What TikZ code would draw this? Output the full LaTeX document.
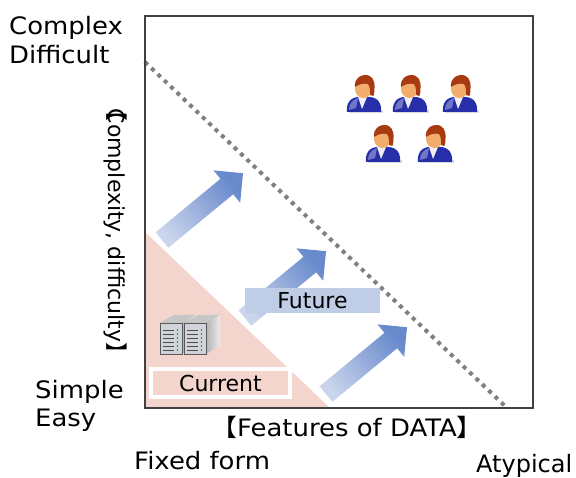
\documentclass[tikz,border=0pt]{standalone}
\usepackage{fontspec}
\setmainfont{DejaVu Sans}
\newfontfamily\cjk{Noto Sans CJK JP}

\definecolor{currentpink}{RGB}{244,213,205}
\definecolor{futureblue}{RGB}{192,205,230}
\definecolor{arrowlight}{RGB}{202,212,236}
\definecolor{arrowdark}{RGB}{104,138,204}
\definecolor{suitblue}{RGB}{38,46,170}
\definecolor{hairbrown}{RGB}{168,58,18}
\definecolor{skin}{RGB}{242,172,108}
\definecolor{rackgray}{RGB}{208,212,216}

\tikzset{
	% wide shaded arrow, tail at the origin, pointing along x
	bigarrow/.pic={
		\shade[left color=arrowlight, right color=arrowdark, shading angle=129.5]
			(0,-10) -- (84,-10) -- (84,-21) -- (105,0) -- (84,21) -- (84,10) -- (0,10) -- cycle;
	},
	% person icon, origin at the bottom middle
	user/.pic={
		\fill[black!15] (-15,-1) rectangle (19,1.5);
		\fill[suitblue] (-17,0) -- (17,0) .. controls (18,8) and (14,15) .. (5,15) -- (-5,15)
			.. controls (-14,15) and (-18,8) .. (-17,0) -- cycle;
		\fill[white, opacity=0.35] (-15,2) .. controls (-15,8) and (-12,12) .. (-6,14) -- (-8,4) -- cycle;
		\fill[white!88!gray] (-6,15) -- (3,15) -- (-2,3) -- cycle;
		\fill[skin] (-0.5,23) ellipse (8.5 and 9);
		\fill[hairbrown] (-9,25) .. controls (-10,34) and (-3,37) .. (1,37)
			.. controls (8,37) and (11,32) .. (10.5,24) .. controls (10.5,20) and (10,17) .. (9.5,16)
			-- (6,17) .. controls (6.5,21) and (6,25) .. (4,28)
			.. controls (0,29) and (-5,28) .. (-9,25) -- cycle;
	},
	% one server cabinet, origin at the front bottom left
	rack/.pic={
		\fill[gray!45] (0,31) -- (22,31) -- (36,39) -- (14,39) -- cycle;
		\shade[left color=gray!60, right color=gray!15] (22,0) -- (36,8) -- (36,39) -- (22,31) -- cycle;
		\fill[rackgray] (0,0) rectangle (22,31);
		\draw[gray!70!black, line width=0.6bp] (0,0) rectangle (22,31);
		\foreach \y in {4,8,...,27} {
			\draw[gray!60!black, line width=0.8bp] (3,\y) -- (14,\y);
			\fill[green!65!black] (17.5,\y) circle (0.9bp);
		}
	},
	tag/.style={font=\fontsize{24bp}{28bp}\selectfont, inner sep=0pt, xscale=1.08}
}

\begin{document}
\begin{tikzpicture}[x=1bp, y=1bp]
	\fill[white] (0,0) rectangle (576,478);
	\useasboundingbox (0,0) rectangle (576,478);

	% region handled today
	\fill[currentpink] (145,246) -- (145,70) -- (330,70) -- cycle;

	% moves towards harder data
	\foreach \x/\y in {162/238, 245/160, 326/84}
		\pic[rotate=39.5] at (\x,\y) {bigarrow};

	\draw[gray, line width=4bp, dash pattern=on 4bp off 4.8bp] (145,416) -- (507,70);
	\draw[black!75, line width=2bp] (145,70) rectangle (533,462);

	\node[fill=futureblue, minimum width=135bp, minimum height=25bp, inner sep=0pt,
		font=\fontsize{22bp}{26bp}\selectfont] (future) at (312.5,177.5) {Future};
	\node[fill=currentpink, draw=white, line width=4bp, minimum width=139bp, minimum height=28bp,
		inner sep=0pt, font=\fontsize{22bp}{26bp}\selectfont] (current) at (220.5,95) {Current};

	\pic at (160,124) {rack};
	\pic at (184,124) {rack};

	\foreach \x/\y in {364/366, 410/366, 460/366, 383/316, 435/316}
		\pic at (\x,\y) {user};

	% axis texts
	\node[tag, anchor=base west] (complex) at (9,443) {Complex};
	\node[tag, anchor=base west] (difficult) at (9,414) {Difficult};
	\node[tag, anchor=base west] (simple) at (35,79) {Simple};
	\node[tag, anchor=base west] (easy) at (35,51) {Easy};
	\node[tag, anchor=base west] (fixed) at (134,8) {Fixed form};
	\node[inner sep=0pt, anchor=base west, font=\fontsize{24bp}{28bp}\selectfont] (atypical) at (476,5) {Atypical};
	\node[tag, anchor=base] (xlabel) at (347,41)
		{{\cjk 【}Features of DATA{\cjk 】}};
	\node[inner sep=0pt, rotate=-90, font=\fontsize{22bp}{26bp}\selectfont] (ylabel) at (116,246)
		{{\cjk 【}\kern-0.6em Complexity, difficulty{\cjk 】}};
\end{tikzpicture}
\end{document}
